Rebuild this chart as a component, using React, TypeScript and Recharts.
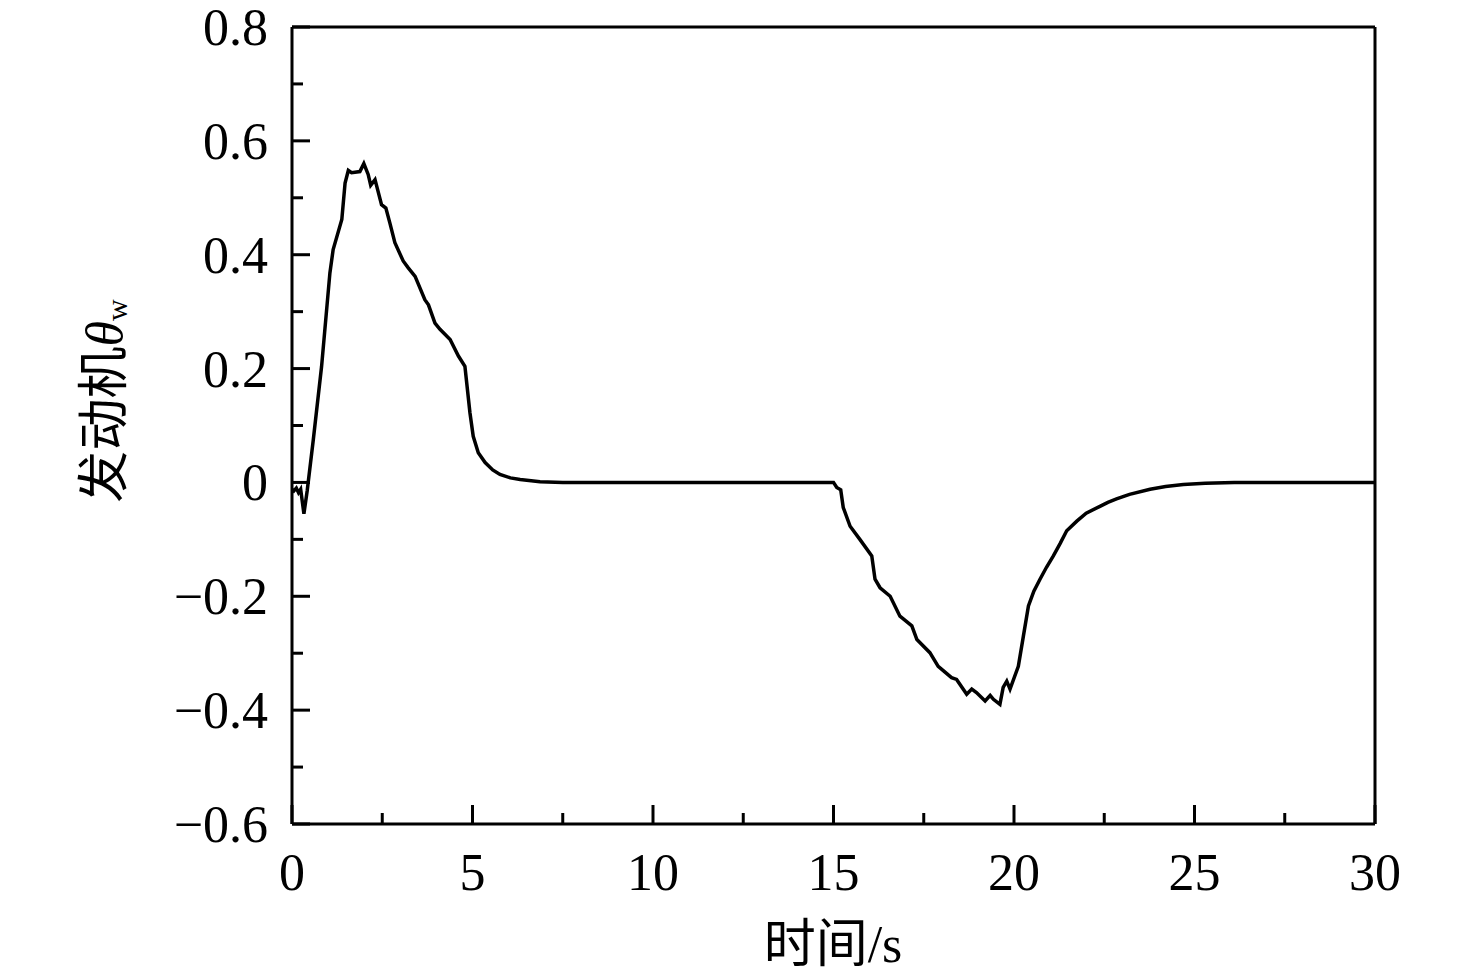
import { LineChart, Line, XAxis, YAxis, ReferenceLine } from 'recharts';

// time (s) and engine θw
const time = [
  0, 0.05, 0.12, 0.18, 0.24, 0.33, 0.42, 0.59, 0.82, 1.05,
  1.14, 1.38, 1.47, 1.56, 1.65, 1.88, 1.99, 2.11, 2.18, 2.3,
  2.48, 2.6, 2.71, 2.85, 3.08, 3.22, 3.41, 3.68, 3.78, 3.96,
  4.1, 4.38, 4.61, 4.79, 4.93, 5.02, 5.16, 5.35, 5.56, 5.76,
  6.05, 6.32, 6.87, 7.5, 10, 14, 15.0, 15.09, 15.2, 15.27,
  15.46, 15.73, 16.06, 16.15, 16.29, 16.57, 16.84, 17.17, 17.31, 17.67,
  17.9, 18.27, 18.41, 18.69, 18.83, 18.96, 19.2, 19.34, 19.43, 19.61,
  19.7, 19.8, 19.89, 20.12, 20.26, 20.4, 20.55, 20.72, 20.9, 21.09,
  21.28, 21.46, 21.74, 22.0, 22.38, 22.6, 22.84, 23.2, 23.77, 24.2,
  24.69, 25.3, 26.1, 28, 30,
];
const theta = [
  -0.012, -0.015, -0.01, -0.018, -0.012, -0.055, -0.015, 0.075, 0.204, 0.368,
  0.409, 0.462, 0.526, 0.548, 0.544, 0.546, 0.56, 0.541, 0.522, 0.532,
  0.488, 0.482, 0.456, 0.421, 0.389, 0.377, 0.362, 0.321, 0.312, 0.28,
  0.269, 0.251, 0.222, 0.204, 0.122, 0.081, 0.052, 0.035, 0.022, 0.014,
  0.008, 0.005, 0.001, 0, 0, 0, 0, -0.009, -0.013, -0.044,
  -0.077, -0.1, -0.129, -0.17, -0.185, -0.2, -0.235, -0.252, -0.276, -0.299,
  -0.323, -0.343, -0.346, -0.372, -0.363, -0.369, -0.384, -0.374, -0.381, -0.39,
  -0.36, -0.349, -0.363, -0.323, -0.27, -0.217, -0.191, -0.17, -0.149, -0.129,
  -0.107, -0.085, -0.068, -0.054, -0.042, -0.035, -0.029, -0.021, -0.012, -0.007,
  -0.0035, -0.0015, 0, 0, 0,
];

const xTicks = [0, 2.5, 5, 7.5, 10, 12.5, 15, 17.5, 20, 22.5, 25, 27.5, 30];
const yTicks = [-0.6, -0.5, -0.4, -0.3, -0.2, -0.1, 0, 0.1, 0.2, 0.3, 0.4, 0.5, 0.6, 0.7, 0.8];

const data = time.map((t, i) => ({ t, v: theta[i] }));

const FONT = "'Liberation Serif', 'Times New Roman', 'Noto Sans CJK SC', serif";
const FS = 52;

const fmtY = (v: number) => {
  if (Math.abs(v) < 1e-9) return '0';
  const s = Math.abs(v).toFixed(1);
  return v < 0 ? '\u2212' + s : s;
};

const XTick = (props: any) => {
  const { x, y, payload } = props;
  const major = Math.abs(payload.value % 5) < 1e-9;
  return (
    <g>
      <line x1={x} y1={y} x2={x} y2={y - (major ? 19 : 11)} stroke="#000" strokeWidth={3} />
      {major && (
        <text x={x} y={y + 66} textAnchor="middle" fontFamily={FONT} fontSize={FS} fill="#000">
          {payload.value}
        </text>
      )}
    </g>
  );
};

const YTick = (props: any) => {
  const { x, y, payload } = props;
  const major = Math.round(payload.value * 10) % 2 === 0;
  return (
    <g>
      <line x1={x} y1={y} x2={x + (major ? 18 : 11)} y2={y} stroke="#000" strokeWidth={3} />
      {major && (
        <text x={x - 24} y={y + 18} textAnchor="end" fontFamily={FONT} fontSize={FS} fill="#000">
          {fmtY(payload.value)}
        </text>
      )}
    </g>
  );
};

const XLabel = () => (
  <text x={833} y={962} textAnchor="middle" fontFamily={FONT} fontSize={FS} fill="#000">
    时间/s
  </text>
);

const YLabel = () => (
  <text
    x={104}
    y={401}
    transform="rotate(-90, 104, 401)"
    textAnchor="middle"
    dominantBaseline="central"
    fontFamily={FONT}
    fontSize={FS}
    fill="#000"
  >
    发动机
    <tspan fontStyle="italic">θ</tspan>
    <tspan fontSize={30} dy={12}>w</tspan>
  </text>
);

export default function App() {
  return (
    <div style={{ position: 'absolute', left: 0, top: 0, background: '#fff' }}>
      <LineChart width={1476} height={978} data={data} margin={{ top: 27, right: 101, bottom: 0, left: 0 }}>
        <XAxis
          dataKey="t"
          type="number"
          domain={[0, 30]}
          ticks={xTicks}
          interval={0}
          height={154}
          tickSize={0}
          tickMargin={0}
          tickLine={false}
          axisLine={{ stroke: '#000', strokeWidth: 3 }}
          tick={<XTick />}
          label={{ content: <XLabel /> }}
        />
        <YAxis
          type="number"
          domain={[-0.6, 0.8]}
          ticks={yTicks}
          interval={0}
          width={292}
          tickSize={0}
          tickMargin={0}
          tickLine={false}
          axisLine={{ stroke: '#000', strokeWidth: 3 }}
          tick={<YTick />}
          label={{ content: <YLabel /> }}
          allowDataOverflow
        />
        <ReferenceLine y={0.8} stroke="#000" strokeWidth={3} />
        <ReferenceLine x={30} stroke="#000" strokeWidth={3} />
        <Line
          type="linear"
          dataKey="v"
          stroke="#000"
          strokeWidth={3.5}
          dot={false}
          activeDot={false}
          isAnimationActive={false}
        />
      </LineChart>
    </div>
  );
}
